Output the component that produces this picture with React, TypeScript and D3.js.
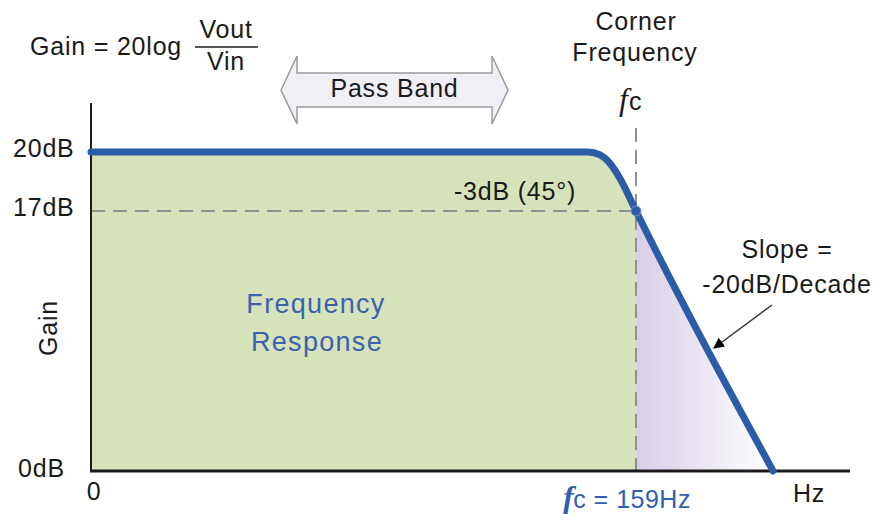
import React from "react";
import * as d3 from "d3";

const W = 876;
const H = 514;

// Response curve: frequency (Hz) vs gain (dB)
const freqs = [0, 145, 148.5, 151.5, 154.5, 159, 199];
const gains = [20, 20, 19.85, 19.4, 18.6, 17, 0];
const cornerFreq = 159;
const cornerGain = 17;
const yTicks = [20, 17, 0];
const yTickLabels = ["20dB", "17dB", "0dB"];

const FONT = "'Liberation Sans', Arial, sans-serif";
const TXT = "#1a1a1a";

export default function App() {
  const x = d3.scaleLinear().domain([0, 159]).range([91, 636]);
  const y = d3.scaleLinear().domain([0, 17, 20]).range([471, 211, 152]);
  const pts: [number, number][] = freqs.map((f, i) => [f, gains[i]]);

  const line = d3
    .line<[number, number]>()
    .x((d) => x(d[0]))
    .y((d) => y(d[1]))
    .curve(d3.curveMonotoneX);

  const area = d3
    .area<[number, number]>()
    .x((d) => x(d[0]))
    .y0(y(0))
    .y1((d) => y(d[1]))
    .curve(d3.curveMonotoneX);

  const left = pts.filter((d) => d[0] <= cornerFreq);
  const right = pts.filter((d) => d[0] >= cornerFreq);

  const x0 = x(0);
  const xEnd = 850;
  const yTop = 103;
  const xc = x(cornerFreq);
  const yc = y(cornerGain);
  const xLineEnd = x(freqs[freqs.length - 1]);

  // pass band arrow geometry
  const pbL = 281, pbR = 508, pbMid = 90, headW = 16, bodyH = 17, headH = 34;
  const pbPath = `M${pbL},${pbMid} L${pbL + headW},${pbMid - headH} L${pbL + headW},${pbMid - bodyH} L${pbR - headW},${pbMid - bodyH} L${pbR - headW},${pbMid - headH} L${pbR},${pbMid} L${pbR - headW},${pbMid + headH} L${pbR - headW},${pbMid + bodyH} L${pbL + headW},${pbMid + bodyH} L${pbL + headW},${pbMid + headH} Z`;

  const t = { fontFamily: FONT, fontSize: 25, letterSpacing: 0.8, fill: TXT } as const;

  return (
    <svg width={W} height={H} style={{ position: "absolute", left: 0, top: 0, background: "#fff" }}>
      <defs>
        <linearGradient id="purp" x1={xc} x2={xLineEnd} y1="0" y2="0" gradientUnits="userSpaceOnUse">
          <stop offset="0" stopColor="#d8cee6" />
          <stop offset="1" stopColor="#ffffff" />
        </linearGradient>
        <marker id="arr" viewBox="0 0 10 10" refX="9" refY="5" markerWidth="11" markerHeight="11" orient="auto" markerUnits="userSpaceOnUse">
          <path d="M0,0 L10,5 L0,10 Z" fill="#000" />
        </marker>
      </defs>

      {/* fills */}
      <path d={area(left) || ""} fill="#d6e2b9" />
      <path d={area(right) || ""} fill="url(#purp)" />

      {/* dashed guides */}
      <line x1={x0} x2={xc} y1={yc} y2={yc} stroke="#909090" strokeWidth={2} strokeDasharray="14,8" />
      <line x1={xc} x2={xc} y1={128} y2={y(0)} stroke="#909090" strokeWidth={2} strokeDasharray="14,8" />

      {/* axes */}
      <line x1={x0} x2={x0} y1={yTop} y2={y(0) + 1} stroke={TXT} strokeWidth={2} />
      <line x1={x0 - 1} x2={xEnd} y1={y(0)} y2={y(0)} stroke={TXT} strokeWidth={3} />

      {/* response line */}
      <path d={line(pts) || ""} fill="none" stroke="#2b5ca8" strokeWidth={7} strokeLinecap="round" />
      <circle cx={xc} cy={yc} r={5} fill="#2b5ca8" stroke="#7f9cc8" strokeWidth={1} />

      {/* y tick labels */}
      {yTicks.map((v, i) => (
        <text key={v} x={v === 0 ? 18 : 13} y={v === 0 ? y(v) + 6 : y(v) + 5} {...t}>
          {yTickLabels[i]}
        </text>
      ))}
      <text x={94} y={500} textAnchor="middle" {...t}>0</text>
      <text x={809} y={502} textAnchor="middle" {...t}>Hz</text>
      <text transform="translate(57,328) rotate(-90)" textAnchor="middle" {...t}>Gain</text>

      {/* fc label at bottom */}
      <text x={563} y={508} fontFamily={FONT} fill="#2f5fae" letterSpacing={0.5}>
        <tspan fontFamily="'Liberation Serif', serif" fontStyle="italic" fontWeight="bold" fontSize={32}>f</tspan>
        <tspan fontSize={25} dx={-1}>c = 159Hz</tspan>
      </text>

      {/* Gain formula */}
      <text x={30} y={55} {...t}>Gain = 20log</text>
      <text x={226} y={38} textAnchor="middle" {...t}>Vout</text>
      <line x1={195} x2={258} y1={47} y2={47} stroke="#555" strokeWidth={1.8} />
      <text x={226} y={70} textAnchor="middle" {...t}>Vin</text>

      {/* pass band arrow */}
      <path d={pbPath} fill="#f1eff6" stroke="#9a9a9a" strokeWidth={1.5} />
      <text x={(pbL + pbR) / 2} y={97} textAnchor="middle" {...t}>Pass Band</text>

      {/* corner frequency */}
      <text x={636} y={30} textAnchor="middle" {...t}>Corner</text>
      <text x={635} y={61} textAnchor="middle" {...t}>Frequency</text>
      <text x={619} y={110} fontFamily={FONT} fill={TXT}>
        <tspan fontFamily="'Liberation Serif', serif" fontStyle="italic" fontSize={32}>f</tspan>
        <tspan fontSize={25} dx={1}>c</tspan>
      </text>

      {/* -3dB label */}
      <text x={515} y={200} textAnchor="middle" {...t}>-3dB (45°)</text>

      {/* Frequency Response */}
      <text x={316} y={313} textAnchor="middle" fontFamily={FONT} fontSize={27} letterSpacing={1.3} fill="#3a62ae">Frequency</text>
      <text x={317} y={351} textAnchor="middle" fontFamily={FONT} fontSize={27} letterSpacing={1.3} fill="#3a62ae">Response</text>

      {/* slope annotation */}
      <text x={787} y={258} textAnchor="middle" {...t}>Slope =</text>
      <text x={787} y={293} textAnchor="middle" {...t}>-20dB/Decade</text>
      <line x1={772} y1={305} x2={714} y2={348} stroke="#333" strokeWidth={1.5} markerEnd="url(#arr)" />
    </svg>
  );
}
